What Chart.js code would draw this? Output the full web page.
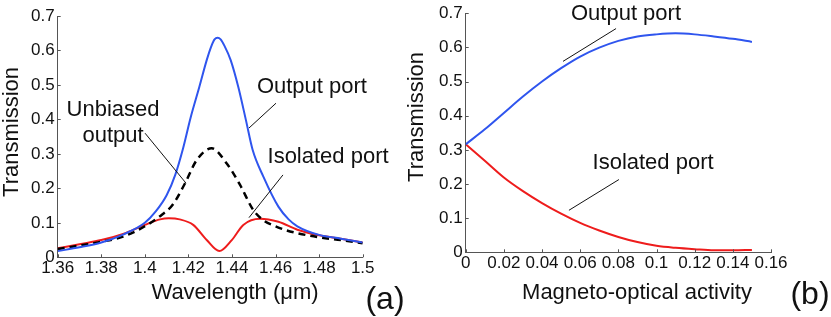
<!DOCTYPE html>
<html lang="en">
<head>
<meta charset="UTF-8">
<title>Transmission of the isolator ports</title>
<style>
    body { margin: 0; background: #fff; }
    .panel { position: absolute; top: 0; height: 317px; }
    #panel-a { left: 0; width: 420px; }
    #panel-b { left: 400px; width: 431px; }
</style>
</head>
<body>
<div class="panel" id="panel-a"><canvas id="chart-a"></canvas></div>
<div class="panel" id="panel-b"><canvas id="chart-b"></canvas></div>

<script src="https://cdn.jsdelivr.net/npm/chart.js"></script>
<script>
// (a) transmission vs wavelength (um)
const outputPortA = [
    [1.36, 0.018], [1.37, 0.029], [1.38, 0.043], [1.39, 0.066], [1.40, 0.100],
    [1.405, 0.133], [1.41, 0.180], [1.414, 0.240], [1.4175, 0.315], [1.421, 0.405],
    [1.425, 0.494], [1.4284, 0.572], [1.4305, 0.612], [1.432, 0.632], [1.4334, 0.637],
    [1.4348, 0.632], [1.4365, 0.614], [1.4394, 0.572], [1.4429, 0.494], [1.4464, 0.398],
    [1.4495, 0.311], [1.4544, 0.234], [1.4613, 0.147], [1.466, 0.110], [1.47, 0.090],
    [1.48, 0.065], [1.49, 0.054], [1.50, 0.043]
];
const unbiasedA = [
    [1.36, 0.024], [1.37, 0.034], [1.38, 0.045], [1.39, 0.060], [1.40, 0.090],
    [1.4077, 0.123], [1.4125, 0.150], [1.4184, 0.214], [1.4238, 0.282], [1.4307, 0.316],
    [1.4376, 0.272], [1.4437, 0.210], [1.4498, 0.137], [1.455, 0.105], [1.46, 0.090],
    [1.465, 0.078], [1.47, 0.070], [1.48, 0.058], [1.49, 0.050], [1.50, 0.041]
];
const isolatedA = [
    [1.36, 0.026], [1.37, 0.038], [1.38, 0.050], [1.39, 0.068], [1.40, 0.094],
    [1.407, 0.110], [1.411, 0.113], [1.416, 0.110], [1.4222, 0.094], [1.4284, 0.050],
    [1.4342, 0.018], [1.4399, 0.050], [1.4452, 0.094], [1.4529, 0.112], [1.4613, 0.103],
    [1.47, 0.080], [1.48, 0.064], [1.49, 0.054], [1.50, 0.043]
];
const xTicksA = [1.36, 1.38, 1.40, 1.42, 1.44, 1.46, 1.48, 1.50];
const xTickLabelsA = ['1.36', '1.38', '1.4', '1.42', '1.44', '1.46', '1.48', '1.5'];

// (b) transmission vs magneto-optical activity
const activityB = [0, 0.01, 0.02, 0.03, 0.04, 0.05, 0.06, 0.07, 0.08, 0.09, 0.10, 0.11, 0.12, 0.13, 0.14, 0.15];
const outputPortB = [0.316, 0.360, 0.408, 0.456, 0.500, 0.539, 0.573, 0.599, 0.619, 0.632, 0.638, 0.641, 0.638, 0.632, 0.625, 0.616];
const isolatedB = [0.316, 0.268, 0.219, 0.179, 0.144, 0.113, 0.086, 0.064, 0.045, 0.030, 0.019, 0.013, 0.009, 0.006, 0.006, 0.007];
const xTicksB = [0, 0.02, 0.04, 0.06, 0.08, 0.10, 0.12, 0.14, 0.16];
const xTickLabelsB = ['0', '0.02', '0.04', '0.06', '0.08', '0.1', '0.12', '0.14', '0.16'];

const yTicks = [0, 0.1, 0.2, 0.3, 0.4, 0.5, 0.6, 0.7];
const yTickLabels = ['0', '0.1', '0.2', '0.3', '0.4', '0.5', '0.6', '0.7'];

const BLUE = '#2f55ee';
const RED = '#ee1c1c';
const FONT = '"Liberation Sans", Arial, sans-serif';

Chart.defaults.font.family = FONT;
Chart.defaults.font.size = 17;
Chart.defaults.color = '#111';

const toPoints = pairs => pairs.map(([x, y]) => ({ x, y }));
const zipPoints = (xs, ys) => xs.map((x, i) => ({ x, y: ys[i] }));

// short tick marks pointing into the plot, titles and the callout labels
const decorPlugin = {
    id: 'decor',
    afterDraw(chart, args, opts) {
        const { ctx, chartArea, scales: { x, y } } = chart;
        ctx.save();
        ctx.strokeStyle = '#555';
        ctx.lineWidth = 1;
        ctx.beginPath();
        x.ticks.forEach(t => {
            const px = Math.round(x.getPixelForValue(t.value)) + 0.5;
            ctx.moveTo(px, chartArea.bottom);
            ctx.lineTo(px, chartArea.bottom - 3);
        });
        y.ticks.forEach(t => {
            const py = Math.round(y.getPixelForValue(t.value)) + 0.5;
            ctx.moveTo(chartArea.left, py);
            ctx.lineTo(chartArea.left + 3, py);
        });
        ctx.stroke();

        ctx.fillStyle = '#111';
        ctx.textAlign = 'center';
        ctx.textBaseline = 'middle';
        ctx.font = '22px ' + FONT;
        ctx.fillText(opts.xTitle.text, opts.xTitle.at[0], opts.xTitle.at[1]);
        ctx.save();
        ctx.translate(opts.yTitle.at[0], opts.yTitle.at[1]);
        ctx.rotate(-Math.PI / 2);
        ctx.fillText(opts.yTitle.text, 0, 0);
        ctx.restore();

        ctx.font = '32px ' + FONT;
        ctx.fillText(opts.panel.text, opts.panel.at[0], opts.panel.at[1]);

        ctx.font = '22px ' + FONT;
        ctx.strokeStyle = '#111';
        opts.notes.forEach(n => {
            n.lines.forEach((line, i) => {
                ctx.fillText(line, x.getPixelForValue(n.at[0]), y.getPixelForValue(n.at[1] - i * 0.076));
            });
            ctx.beginPath();
            ctx.moveTo(x.getPixelForValue(n.from[0]), y.getPixelForValue(n.from[1]));
            ctx.lineTo(x.getPixelForValue(n.to[0]), y.getPixelForValue(n.to[1]));
            ctx.stroke();
        });
        ctx.restore();
    }
};

const lineSet = (label, data, color, dash) => ({
    label,
    data,
    borderColor: color,
    borderWidth: dash ? 2.5 : 2,
    borderDash: dash || [],
    pointRadius: 0,
    cubicInterpolationMode: 'monotone',
    fill: false,
});

const makeChart = (canvasId, cfg) => new Chart(document.getElementById(canvasId), {
    type: 'line',
    data: { datasets: cfg.datasets },
    options: {
        responsive: true,
        maintainAspectRatio: false,
        animation: false,
        layout: { padding: cfg.padding },
        plugins: {
            legend: { display: false },
            tooltip: { enabled: false },
            decor: cfg.decor,
        },
        scales: {
            x: {
                type: 'linear',
                min: cfg.xTicks[0],
                max: cfg.xTicks[cfg.xTicks.length - 1],
                afterBuildTicks: s => { s.ticks = cfg.xTicks.map(v => ({ value: v })); },
                afterFit: s => { s.height = cfg.xHeight; },
                grid: { display: false, drawTicks: false },
                border: { color: '#555', width: 1 },
                ticks: {
                    autoSkip: false,
                    maxRotation: 0,
                    padding: 1,
                    callback: (v, i) => cfg.xLabels[i],
                },
            },
            y: {
                type: 'linear',
                min: 0,
                max: 0.7,
                afterBuildTicks: s => { s.ticks = yTicks.map(v => ({ value: v })); },
                afterFit: s => { s.width = cfg.yWidth; },
                grid: { display: false, drawTicks: false },
                border: { color: '#555', width: 1 },
                ticks: {
                    padding: 3,
                    callback: (v, i) => yTickLabels[i],
                },
            },
        },
    },
    plugins: [decorPlugin],
});

makeChart('chart-a', {
    datasets: [
        lineSet('Output port', toPoints(outputPortA), BLUE),
        lineSet('Unbiased output', toPoints(unbiasedA), '#000', [7, 5]),
        lineSet('Isolated port', toPoints(isolatedA), RED),
    ],
    xTicks: xTicksA,
    xLabels: xTickLabelsA,
    xHeight: 59.7,
    yWidth: 57.7,
    padding: { top: 16, right: 57.3, left: 0, bottom: 0 },
    decor: {
        xTitle: { text: 'Wavelength (\u03bcm)', at: [235, 293] },
        yTitle: { text: 'Transmission', at: [12, 132] },
        panel: { text: '(a)', at: [385, 300] },
        notes: [
            { lines: ['Output port'], at: [1.4767, 0.493], from: [1.4602, 0.447], to: [1.4478, 0.375] },
            { lines: ['Unbiased', 'output'], at: [1.3854, 0.427], from: [1.4001, 0.360], to: [1.4189, 0.215] },
            { lines: ['Isolated port'], at: [1.4841, 0.290], from: [1.4634, 0.239], to: [1.4478, 0.115] },
        ],
    },
});

makeChart('chart-b', {
    datasets: [
        lineSet('Output port', zipPoints(activityB, outputPortB), BLUE),
        lineSet('Isolated port', zipPoints(activityB, isolatedB), RED),
    ],
    xTicks: xTicksB,
    xLabels: xTickLabelsB,
    xHeight: 64.7,
    yWidth: 65.7,
    padding: { top: 11, right: 60, left: 0, bottom: 0 },
    decor: {
        xTitle: { text: 'Magneto-optical activity', at: [237, 293] },
        yTitle: { text: 'Transmission', at: [17, 117] },
        panel: { text: '(b)', at: [410, 295] },
        notes: [
            { lines: ['Output port'], at: [0.084, 0.697], from: [0.0788, 0.655], to: [0.051, 0.559] },
            { lines: ['Isolated port'], at: [0.0982, 0.2625], from: [0.0803, 0.213], to: [0.0541, 0.123] },
        ],
    },
});
</script>
</body>
</html>
